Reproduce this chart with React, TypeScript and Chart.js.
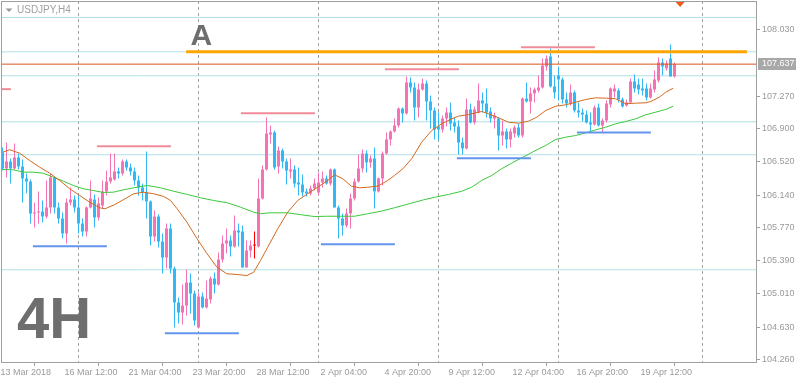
import React, { useEffect, useRef } from 'react';
import { Chart, registerables } from 'chart.js';

Chart.register(...registerables);

const symbolTitle = 'USDJPY,H4';
const timeframeText = '4H';
const labelA = 'A';
const currentPrice = 107.637;

const opens = [
  106.627, 106.444, 106.524, 106.444, 106.570, 106.467, 106.330, 106.295, 105.929, 105.941,
  105.952, 105.895, 105.998, 106.341, 105.998, 105.872, 105.701, 106.055, 106.089, 105.998,
  105.815, 105.723, 105.998, 106.089, 105.884, 106.021, 106.181, 106.295, 106.318, 106.410,
  106.387, 106.524, 106.455, 106.410, 106.307, 106.227, 106.170, 106.067, 105.666, 105.895,
  105.609, 105.426, 105.758, 105.300, 104.912, 104.797, 104.877, 105.140, 105.014, 104.626,
  104.980, 104.855, 104.946, 105.186, 105.117, 105.403, 105.586, 105.621, 105.552, 105.735,
  105.723, 105.312, 105.506, 105.563, 105.552, 106.101, 106.433, 106.833, 106.856, 106.467,
  106.650, 106.524, 106.410, 106.433, 106.284, 106.261, 106.181, 106.158, 106.215, 106.170,
  106.284, 106.330, 106.272, 106.433, 105.998, 105.872, 105.792, 105.929, 106.101, 106.295,
  106.444, 106.615, 106.513, 106.558, 106.181, 106.330, 106.615, 106.776, 106.867, 106.936,
  107.130, 107.073, 107.427, 107.370, 107.141, 107.347, 107.416, 107.210, 107.107, 106.924,
  106.890, 107.016, 107.084, 106.970, 106.924, 106.741, 106.673, 107.119, 106.970, 107.084,
  107.222, 107.187, 107.096, 107.016, 107.016, 106.821, 106.867, 106.776, 106.844, 106.913,
  106.821, 107.244, 107.210, 107.302, 107.336, 107.370, 107.610, 107.725, 107.382, 107.507,
  107.462, 107.233, 107.187, 107.313, 107.107, 107.084, 107.061, 106.970, 106.947, 107.141,
  106.936, 106.993, 107.176, 107.324, 107.336, 107.233, 107.164, 107.199, 107.439, 107.404,
  107.359, 107.359, 107.256, 107.347, 107.450, 107.656, 107.587, 107.702, 107.496
];
const highs = [
  106.684, 106.741, 106.558, 106.730, 106.615, 106.547, 106.387, 106.318, 106.055, 106.181,
  106.078, 106.307, 106.387, 106.353, 106.055, 105.941, 106.101, 106.227, 106.135, 106.135,
  105.872, 106.009, 106.307, 106.147, 106.112, 106.307, 106.421, 106.615, 106.615, 106.455,
  106.547, 106.547, 106.501, 106.455, 106.364, 106.272, 106.638, 106.078, 105.964, 105.918,
  105.701, 105.815, 105.815, 105.323, 104.969, 105.117, 105.289, 105.243, 105.049, 105.026,
  105.026, 105.163, 105.209, 105.255, 105.483, 105.678, 105.758, 105.678, 105.907, 105.815,
  105.792, 105.621, 105.621, 105.723, 106.330, 106.478, 107.027, 106.936, 106.878, 106.695,
  106.673, 106.558, 106.558, 106.478, 106.455, 106.375, 106.215, 106.250, 106.330, 106.398,
  106.410, 106.364, 106.444, 106.444, 106.021, 105.929, 105.987, 106.158, 106.330, 106.604,
  106.661, 106.650, 106.593, 106.684, 106.341, 106.638, 106.856, 106.878, 107.016, 107.141,
  107.141, 107.496, 107.485, 107.427, 107.416, 107.473, 107.450, 107.279, 107.141, 107.084,
  107.050, 107.141, 107.199, 107.027, 106.993, 106.798, 107.244, 107.187, 107.153, 107.416,
  107.313, 107.359, 107.141, 107.084, 107.027, 106.993, 106.901, 106.901, 106.936, 106.958,
  107.256, 107.427, 107.370, 107.370, 107.507, 107.702, 107.736, 107.816, 107.507, 107.610,
  107.485, 107.313, 107.404, 107.336, 107.199, 107.130, 107.107, 107.084, 107.164, 107.187,
  107.016, 107.222, 107.370, 107.404, 107.359, 107.256, 107.233, 107.473, 107.519, 107.473,
  107.473, 107.416, 107.416, 107.565, 107.713, 107.702, 107.679, 107.862, 107.656
];
const lows = [
  106.421, 106.341, 106.272, 106.433, 106.433, 106.055, 106.158, 105.815, 105.769, 105.815,
  105.826, 105.872, 105.929, 105.929, 105.815, 105.643, 105.586, 106.021, 105.941, 105.701,
  105.666, 105.666, 105.987, 105.769, 105.849, 105.987, 106.135, 106.272, 106.307, 106.330,
  106.364, 106.421, 106.364, 106.250, 106.135, 106.078, 105.872, 105.563, 105.609, 105.541,
  105.243, 105.300, 105.243, 104.626, 104.672, 104.660, 104.763, 104.786, 104.649, 104.615,
  104.843, 104.843, 104.900, 105.014, 105.106, 105.369, 105.472, 105.438, 105.541, 105.552,
  105.312, 105.312, 105.426, 105.415, 105.541, 106.089, 106.421, 106.730, 106.433, 106.387,
  106.444, 106.261, 106.330, 106.227, 106.135, 106.124, 106.124, 106.135, 106.192, 106.135,
  106.227, 106.261, 106.250, 105.998, 105.643, 105.678, 105.769, 105.758, 106.078, 106.284,
  106.398, 106.398, 106.455, 105.987, 106.170, 106.250, 106.604, 106.707, 106.856, 106.913,
  106.970, 107.061, 107.313, 106.993, 107.027, 107.336, 106.993, 106.901, 106.776, 106.764,
  106.856, 106.924, 106.878, 106.856, 106.604, 106.604, 106.661, 106.958, 106.947, 107.073,
  107.084, 107.027, 106.970, 106.901, 106.650, 106.707, 106.673, 106.684, 106.798, 106.798,
  106.798, 107.199, 107.073, 107.199, 107.313, 107.359, 107.565, 107.370, 107.244, 107.222,
  107.187, 107.141, 107.164, 107.084, 107.027, 106.981, 106.958, 106.856, 106.936, 106.924,
  106.856, 106.970, 107.141, 107.256, 107.199, 107.141, 107.153, 107.187, 107.313, 107.290,
  107.279, 107.222, 107.244, 107.313, 107.427, 107.507, 107.565, 107.496, 107.485
];
const closes = [
  106.444, 106.524, 106.444, 106.570, 106.467, 106.330, 106.295, 105.929, 105.941, 105.952,
  105.895, 105.998, 106.341, 105.998, 105.872, 105.701, 106.055, 106.089, 105.998, 105.815,
  105.723, 105.998, 106.101, 105.884, 106.044, 106.181, 106.295, 106.341, 106.410, 106.387,
  106.524, 106.455, 106.410, 106.307, 106.227, 106.170, 106.067, 105.666, 105.895, 105.609,
  105.426, 105.758, 105.300, 104.912, 104.797, 104.877, 105.140, 105.014, 104.706, 104.980,
  104.855, 104.957, 105.186, 105.117, 105.403, 105.586, 105.621, 105.552, 105.735, 105.712,
  105.312, 105.506, 105.563, 105.563, 106.101, 106.433, 106.844, 106.856, 106.455, 106.650,
  106.524, 106.421, 106.433, 106.272, 106.261, 106.170, 106.158, 106.215, 106.272, 106.284,
  106.330, 106.272, 106.433, 105.998, 105.872, 105.792, 105.929, 106.101, 106.295, 106.444,
  106.615, 106.513, 106.558, 106.181, 106.330, 106.615, 106.776, 106.867, 106.936, 107.130,
  107.073, 107.427, 107.370, 107.141, 107.347, 107.416, 107.210, 107.107, 106.890, 106.890,
  107.016, 107.084, 106.958, 106.924, 106.741, 106.673, 107.119, 106.970, 107.119, 107.222,
  107.187, 107.084, 107.016, 107.050, 106.821, 106.867, 106.776, 106.867, 106.913, 106.821,
  107.244, 107.210, 107.302, 107.347, 107.370, 107.622, 107.702, 107.382, 107.313, 107.462,
  107.233, 107.187, 107.313, 107.107, 107.084, 107.061, 106.970, 106.947, 107.141, 106.936,
  106.993, 107.187, 107.359, 107.359, 107.233, 107.153, 107.199, 107.439, 107.359, 107.347,
  107.336, 107.256, 107.359, 107.462, 107.656, 107.610, 107.645, 107.496, 107.637
];

const maFastIdx = [
  0, 1.8, 4.3, 6.8, 9.3, 11.8, 14.3, 16.8, 19.3, 21.8, 24.3, 25.6, 28.1, 30.6, 32.8, 35.3, 37.8, 40.3, 42, 43.6,
  46.1, 48.6, 51.1, 53.6, 56.1, 58.6, 61.1, 62.8, 64.5, 66.3, 68.8, 71.3, 73.8, 76.3, 78.8, 81.3, 83, 85.1, 87.2, 89.3,
  91.3, 93.8, 96.3, 98, 100.1, 102.3, 104.8, 107.3, 109.8, 112.3, 114, 116.5, 119.8, 121.5, 124, 126.5, 129, 131.5, 133.6, 135.8,
  138.3, 140.8, 143.3, 145.8, 148.3, 150.8, 153.3, 155.8, 158.3, 160.8, 162.1, 164.2, 165.8, 167.7
];
const maFastVal = [
  106.630, 106.658, 106.619, 106.535, 106.459, 106.390, 106.307, 106.212, 106.135, 106.059,
  105.995, 105.983, 106.032, 106.097, 106.155, 106.173, 106.155, 106.124, 106.078, 105.987,
  105.830, 105.644, 105.472, 105.315, 105.240, 105.232, 105.220, 105.258, 105.392, 105.544,
  105.754, 105.944, 106.078, 106.155, 106.230, 106.307, 106.372, 106.326, 106.242, 106.223,
  106.230, 106.242, 106.307, 106.364, 106.441, 106.555, 106.745, 106.878, 106.955, 107.012,
  107.042, 107.061, 107.096, 107.069, 107.024, 106.973, 106.962, 106.985, 107.031, 107.107,
  107.156, 107.172, 107.202, 107.233, 107.252, 107.248, 107.241, 107.184, 107.191, 107.195,
  107.210, 107.259, 107.316, 107.362
];
const maSlowIdx = [
  0, 2.7, 5.2, 7.7, 10.2, 12.7, 15.2, 17.7, 20.2, 22.7, 25.2, 27.7, 30.2, 32.8, 36.2, 39.5, 42.8, 46.2, 49.5, 52.8,
  56.2, 59.5, 62.8, 64.5, 66.6, 71.3, 74.7, 77.9, 81.3, 84.7, 88, 91.3, 94.7, 98, 100.1, 105.3, 108.2, 111.5, 114.8, 117.3,
  119.8, 122.3, 124.8, 127.3, 129.8, 133.6, 135.8, 138.3, 140.8, 143.3, 145.8, 148.3, 150.8, 153.3, 155.8, 158.3, 160.8, 163.3, 165.8, 167.7
];
const maSlowVal = [
  106.433, 106.429, 106.402, 106.402, 106.390, 106.344, 106.299, 106.250, 106.212, 106.192,
  106.170, 106.173, 106.200, 106.223, 106.250, 106.223, 106.184, 106.147, 106.109, 106.078,
  106.052, 106.001, 105.944, 105.926, 105.937, 105.937, 105.915, 105.895, 105.898, 105.898,
  105.898, 105.926, 105.956, 105.995, 106.021, 106.086, 106.116, 106.147, 106.184, 106.230,
  106.307, 106.364, 106.441, 106.505, 106.566, 106.658, 106.707, 106.776, 106.802, 106.821,
  106.852, 106.886, 106.916, 106.955, 106.981, 107.012, 107.058, 107.088, 107.119, 107.156
];

const levelPrices = [108.171, 107.778, 107.504, 106.978, 106.601, 105.286];

const resStart = [-0.375, 23.6, 59.6, 95.6, 129.6];
const resEnd = [2.1, 42.1, 78.1, 114.1, 148.1];
const resPrice = [107.351, 106.699, 107.076, 107.579, 107.831];

const supStart = [7.6, 40.6, 79.6, 113.6, 143.6];
const supEnd = [26.1, 59.1, 98.1, 132.1, 162.1];
const supPrice = [105.555, 104.561, 105.578, 106.562, 106.856];

const lineAStart = 45.9;
const lineAEnd = 186.1;
const lineAPrice = 107.778;

const xTickIndex = [0, 16, 32, 48, 64, 80, 96, 112, 128, 144, 160];
const xTickLabels = [
  '13 Mar 2018', '16 Mar 12:00', '21 Mar 04:00', '23 Mar 20:00', '28 Mar 12:00', '2 Apr 04:00',
  '4 Apr 20:00', '9 Apr 12:00', '12 Apr 04:00', '16 Apr 20:00', '19 Apr 12:00'
];
const weekSeparatorIndex = [19, 49, 79, 109, 139, 175];
const yTickValues = [108.03, 107.27, 106.9, 106.52, 106.14, 105.77, 105.39, 105.01, 104.63, 104.26];

const shiftMarkerIndex = 169.4;

const X_MIN = -0.375;
const X_MAX = 188.625;
const Y_MIN = 104.22;
const Y_MAX = 108.359;

const BULL = '#f573b4';
const BEAR = '#32b9f5';
const DOJI = '#ff0000';
const AXIS = '#a0a0a0';
const TEXT = '#9a9a9a';
const FONT = 'Liberation Sans';

const noPad = (s: any) => {
  s.paddingTop = 0;
  s.paddingBottom = 0;
  s.paddingLeft = 0;
  s.paddingRight = 0;
};

export default function App() {
  const ref = useRef<HTMLCanvasElement>(null);

  useEffect(() => {
    document.body.style.margin = '0';
    const canvas = ref.current;
    if (!canvas) return;

    const colors = opens.map((o, i) => (closes[i] > o ? BULL : closes[i] < o ? BEAR : DOJI));

    const seg = (s: number, e: number, p: number, color: string, width: number, order: number) => ({
      type: 'line' as const,
      data: [{ x: s, y: p }, { x: e, y: p }],
      borderColor: color,
      borderWidth: width,
      pointRadius: 0,
      borderCapStyle: 'butt' as const,
      order,
    });

    const datasets: any[] = [];
    levelPrices.forEach((p) => datasets.push(seg(X_MIN, X_MAX, p, '#b0e0e6', 1, 20)));
    datasets.push({
      type: 'bar',
      data: opens.map((_, i) => ({ x: i, y: [lows[i], highs[i]] })),
      backgroundColor: colors,
      barThickness: 1,
      grouped: false,
      inflateAmount: 0,
      borderWidth: 0,
      order: 15,
    });
    datasets.push({
      type: 'bar',
      data: opens.map((o, i) => ({ x: i, y: [o, closes[i]] })),
      backgroundColor: colors,
      barThickness: 3,
      grouped: false,
      inflateAmount: 0,
      borderWidth: 0,
      minBarLength: 1,
      order: 14,
    });
    datasets.push({
      type: 'line',
      data: maSlowIdx.map((x, i) => ({ x, y: maSlowVal[i] })),
      borderColor: '#3cc83c',
      borderWidth: 1,
      pointRadius: 0,
      tension: 0,
      order: 12,
    });
    datasets.push({
      type: 'line',
      data: maFastIdx.map((x, i) => ({ x, y: maFastVal[i] })),
      borderColor: '#d2691e',
      borderWidth: 1,
      pointRadius: 0,
      tension: 0,
      order: 11,
    });
    resStart.forEach((s, i) => datasets.push(seg(s, resEnd[i], resPrice[i], '#f08c9a', 2, 8)));
    supStart.forEach((s, i) => datasets.push(seg(s, supEnd[i], supPrice[i], '#6495ed', 2, 8)));
    datasets.push(seg(lineAStart, lineAEnd, lineAPrice, '#ffa500', 3, 6));
    datasets.push(seg(X_MIN, X_MAX, currentPrice, '#d9541e', 1, 5));

    const overlay = {
      id: 'overlay',
      afterDraw(chart: any) {
        const { ctx, chartArea, scales } = chart;
        ctx.save();
        ctx.strokeStyle = AXIS;
        ctx.lineWidth = 1;
        ctx.strokeRect(chartArea.left + 0.5, chartArea.top + 0.5, chartArea.right - chartArea.left - 1, chartArea.bottom - chartArea.top - 1);
        ctx.fillStyle = '#9a9a9a';
        ctx.beginPath();
        ctx.moveTo(5.5, 8.5);
        ctx.lineTo(12.5, 8.5);
        ctx.lineTo(9, 12);
        ctx.closePath();
        ctx.fill();
        ctx.fillStyle = '#a0a0a0';
        ctx.font = `10px "${FONT}"`;
        ctx.textBaseline = 'middle';
        ctx.textAlign = 'left';
        ctx.fillText(symbolTitle, 17, 10);
        ctx.fillStyle = '#6e6e6e';
        ctx.textBaseline = 'alphabetic';
        ctx.font = `bold 30px "${FONT}"`;
        ctx.fillText(labelA, 190.5, 45);
        ctx.font = `bold 58px "${FONT}"`;
        ctx.fillText(timeframeText, 17, 338);
        const py = Math.round(scales.y.getPixelForValue(currentPrice));
        ctx.fillStyle = '#a8a8a8';
        ctx.fillRect(chartArea.right + 1, py - 6, 40, 12);
        ctx.fillStyle = '#ffffff';
        ctx.font = `9px "${FONT}"`;
        ctx.textBaseline = 'middle';
        ctx.fillText(currentPrice.toFixed(3), chartArea.right + 5, py);
        const sx = scales.x.getPixelForValue(shiftMarkerIndex);
        ctx.fillStyle = '#f05a1e';
        ctx.beginPath();
        ctx.moveTo(sx - 4.5, chartArea.top + 1);
        ctx.lineTo(sx + 4.5, chartArea.top + 1);
        ctx.lineTo(sx, chartArea.top + 6);
        ctx.closePath();
        ctx.fill();
        ctx.restore();
      },
    };

    const chart = new Chart(canvas, {
      type: 'line',
      data: { datasets },
      options: {
        responsive: false,
        animation: false,
        events: [],
        layout: { padding: { left: 1, top: 1, right: 0, bottom: 0 } },
        plugins: { legend: { display: false }, tooltip: { enabled: false }, title: { display: false } },
        scales: {
          x: {
            type: 'linear',
            position: 'bottom',
            min: X_MIN,
            max: X_MAX,
            offset: false,
            afterBuildTicks: (s: any) => {
              s.ticks = xTickIndex.map((v) => ({ value: v }));
            },
            afterFit: (s: any) => {
              s.height = 20;
              noPad(s);
            },
            grid: { drawOnChartArea: false, drawTicks: true, tickLength: 3, color: AXIS, tickColor: AXIS },
            border: { display: false },
            ticks: {
              autoSkip: false,
              maxRotation: 0,
              minRotation: 0,
              align: 'start',
              labelOffset: -2,
              padding: 1,
              color: TEXT,
              font: { family: FONT, size: 9 },
              callback: (_v: any, i: number) => xTickLabels[i],
            },
          },
          x2: {
            type: 'linear',
            position: 'top',
            min: X_MIN,
            max: X_MAX,
            offset: false,
            afterBuildTicks: (s: any) => {
              s.ticks = weekSeparatorIndex.map((v) => ({ value: v }));
            },
            afterFit: (s: any) => {
              s.height = 0;
              noPad(s);
            },
            grid: { drawOnChartArea: true, drawTicks: false, color: AXIS, lineWidth: 1 },
            border: { display: false, dash: [3, 3] },
            ticks: { display: false },
          },
          y: {
            type: 'linear',
            position: 'right',
            min: Y_MIN,
            max: Y_MAX,
            afterBuildTicks: (s: any) => {
              s.ticks = yTickValues.map((v) => ({ value: v }));
            },
            afterFit: (s: any) => {
              s.width = 39;
              noPad(s);
            },
            grid: { drawOnChartArea: false, drawTicks: true, tickLength: 3, color: AXIS, tickColor: AXIS },
            border: { display: false },
            ticks: {
              autoSkip: false,
              padding: 2,
              color: TEXT,
              font: { family: FONT, size: 9 },
              callback: (v: any) => Number(v).toFixed(3),
            },
          },
        },
      } as any,
      plugins: [overlay],
    });

    return () => chart.destroy();
  }, []);

  return <canvas ref={ref} width={796} height={383} style={{ display: 'block' }} />;
}
